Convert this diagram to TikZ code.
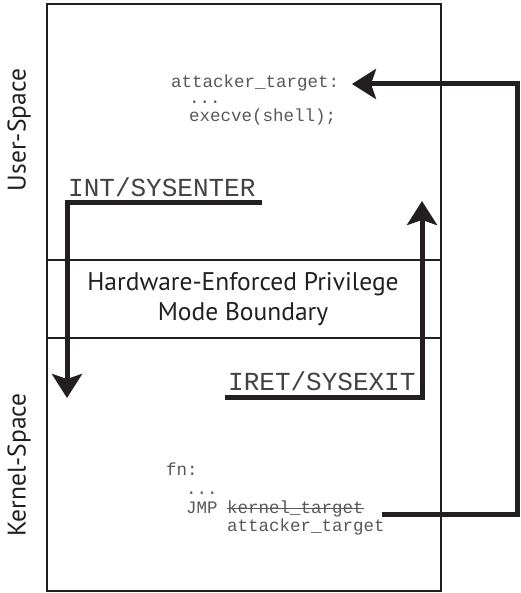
\documentclass[tikz,border=0pt]{standalone}
\usepackage{fontspec}
\setmainfont{PT Sans}
\newfontfamily\codefont{Liberation Mono}
\usetikzlibrary{arrows.meta, positioning}
\definecolor{ink}{RGB}{35,31,32}

\begin{document}
\begin{tikzpicture}[x=1pt, y=-1pt, >={Stealth[length=24pt, width=30pt, inset=5pt]},
    flow/.style={draw=ink, line width=5pt, ->, line join=miter},
    code/.style={anchor=base west, inner sep=0pt, text height=10pt, text depth=3pt, text=ink!75,
        font=\codefont\fontsize{17.5}{17.5}\selectfont},
    trap/.style={anchor=base west, inner sep=0pt, text=ink!85, font=\codefont\fontsize{26}{26}\selectfont},
    side/.style={rotate=90, inner sep=0pt, text=ink, font=\fontsize{25.5}{25.5}\selectfont}]
        \useasboundingbox (0,0) rectangle (520,593);

        % Frame and boundary band
        \draw[ink, line width=1.5pt] (47,4) rectangle (441,591);
        \draw[ink, line width=2pt] (47,260) -- (441,260);
        \draw[ink, line width=2pt] (47,338) -- (441,338);
        \node[align=center, text=ink, font=\fontsize{25.5}{30}\selectfont] (bound) at (243,299)
            {Hardware-Enforced Privilege\\Mode Boundary};

        % Side labels
        \node[side] (user) at (19,130) {User-Space};
        \node[side] (kern) at (19,465) {Kernel-Space};

        % User code
        \node[code] (ut1) at (171,88) {attacker\_target:};
        \node[code] (ut2) at (189,104) {...};
        \node[code] (ut3) at (189,122) {execve(shell);};

        % Kernel code
        \node[code] (kt1) at (166,475) {fn:};
        \node[code] (kt2) at (186,494) {...};
        \node[code] (kt3) at (186,513) {JMP};
        \node[code] (kt3b) at (227,513) {kernel\_target};
        \node[code] (kt4) at (227,531) {attacker\_target};
        \draw[ink!75, line width=1pt] ([yshift=4.5pt]kt3b.base west) -- ([yshift=4.5pt]kt3b.base east);

        % Mode switches
        \node[trap] (enter) at (68,197) {INT/SYSENTER};
        \node[trap] (exit) at (228,390) {IRET/SYSEXIT};

        \coordinate (enS) at (262,203);
        \coordinate (enC) at (67,203);
        \coordinate (enE) at (67,398);
        \coordinate (exS) at (225,397);
        \coordinate (exC) at (422,397);
        \coordinate (exE) at (422,201);
        \coordinate (jS) at (382,514);
        \coordinate (jC1) at (517,514);
        \coordinate (jC2) at (517,84);
        \coordinate (jE) at (352,84);

        \draw[flow] (enS) -- (enC) -- (enE);
        \draw[flow] (exS) -- (exC) -- (exE);
        \draw[flow] (jS) -- (jC1) -- (jC2) -- (jE);

\end{tikzpicture}
\end{document}
